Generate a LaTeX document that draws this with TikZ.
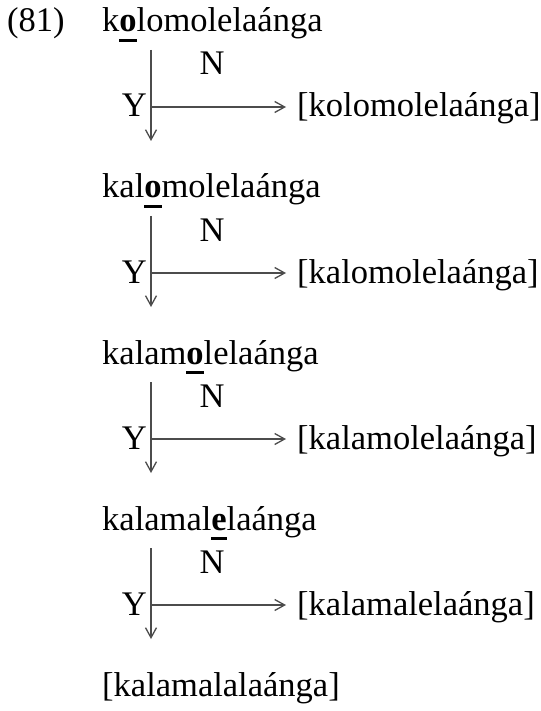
\documentclass[tikz,border=0pt]{standalone}
\usepackage{fontspec}
\setmainfont{Liberation Serif}
\usetikzlibrary{arrows.meta}
\newcommand\stress[1]{\setbox0\hbox{\textbf{#1}}\rlap{\rule[-10pt]{\wd0}{3pt}}\box0}

\begin{document}
\begin{tikzpicture}[x=1pt, y=-1pt,
	every node/.style={inner sep=0pt, font=\fontsize{34.5pt}{40pt}\selectfont},
	branch/.style={line width=1.3pt, color=black!70, -{Straight Barb[length=10pt,width=11pt]}}]
			%%%%% START %%%%%
			\useasboundingbox (0, 0) rectangle (540, 711);
			
			\node[anchor=base west] (num) at (7, 32) {(81)};
			
			\node[anchor=base west] (form1) at (102, 32) {k\stress{o}lomolelaánga};
			\coordinate (top1) at (151, 50);
			\coordinate (fork1) at (151, 107);
			\coordinate (end1) at (151, 141);
			\node[anchor=base] (no1) at (212, 75) {N};
			\node[anchor=base east] (yes1) at (147, 117) {Y};
			\node[anchor=base west] (out1) at (297, 117) {[kolomolelaánga]};
			\draw[branch] (top1) -- (end1);
			\draw[branch, shorten >=11pt] (fork1) -- (fork1 -| out1.west);
			
			\node[anchor=base west] (form2) at (102, 198) {kal\stress{o}molelaánga};
			\coordinate (top2) at (151, 216);
			\coordinate (fork2) at (151, 273);
			\coordinate (end2) at (151, 307);
			\node[anchor=base] (no2) at (212, 241) {N};
			\node[anchor=base east] (yes2) at (147, 283) {Y};
			\node[anchor=base west] (out2) at (297, 283) {[kalomolelaánga]};
			\draw[branch] (top2) -- (end2);
			\draw[branch, shorten >=11pt] (fork2) -- (fork2 -| out2.west);
			
			\node[anchor=base west] (form3) at (102, 364) {kalam\stress{o}lelaánga};
			\coordinate (top3) at (151, 382);
			\coordinate (fork3) at (151, 439);
			\coordinate (end3) at (151, 473);
			\node[anchor=base] (no3) at (212, 407) {N};
			\node[anchor=base east] (yes3) at (147, 449) {Y};
			\node[anchor=base west] (out3) at (297, 449) {[kalamolelaánga]};
			\draw[branch] (top3) -- (end3);
			\draw[branch, shorten >=11pt] (fork3) -- (fork3 -| out3.west);
			
			\node[anchor=base west] (form4) at (102, 530) {kalamal\stress{e}laánga};
			\coordinate (top4) at (151, 548);
			\coordinate (fork4) at (151, 605);
			\coordinate (end4) at (151, 639);
			\node[anchor=base] (no4) at (212, 573) {N};
			\node[anchor=base east] (yes4) at (147, 615) {Y};
			\node[anchor=base west] (out4) at (297, 615) {[kalamalelaánga]};
			\draw[branch] (top4) -- (end4);
			\draw[branch, shorten >=11pt] (fork4) -- (fork4 -| out4.west);
			
			\node[anchor=base west] (form5) at (102, 696) {[kalamalalaánga]};
			%%%%% END %%%%%
\end{tikzpicture}
\end{document}
